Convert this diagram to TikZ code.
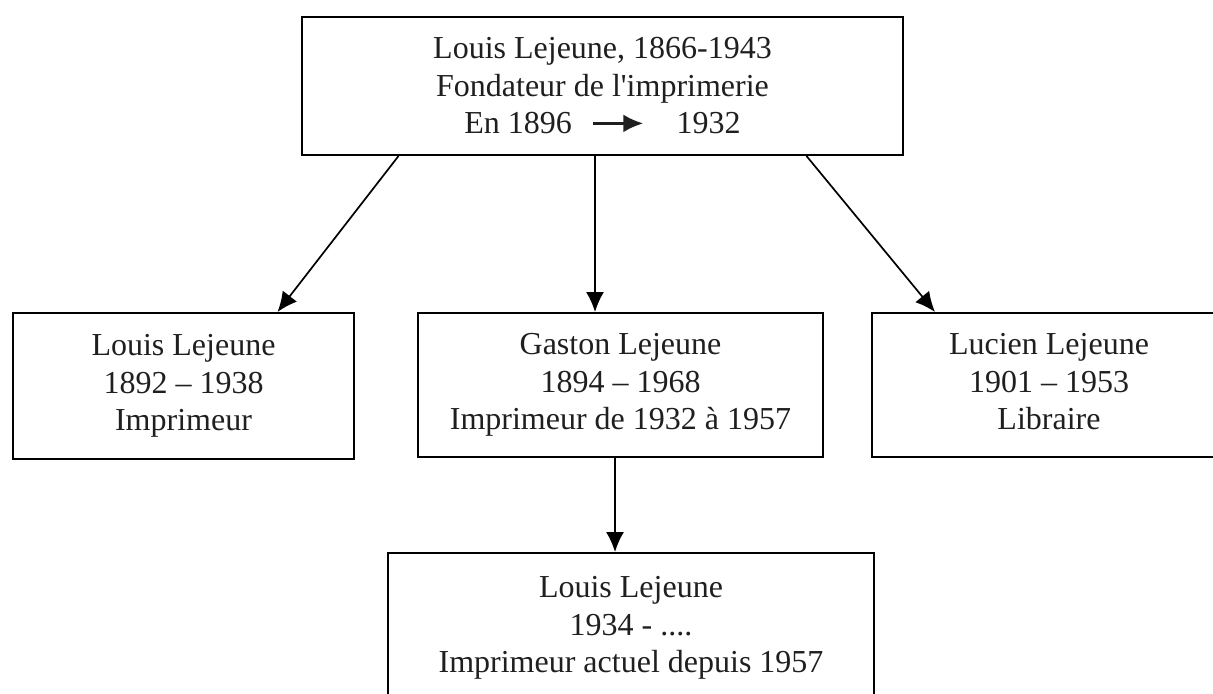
\documentclass[tikz,border=0pt]{standalone}
\usepackage{fontspec}
\setmainfont{Liberation Serif}
\usetikzlibrary{arrows.meta, positioning}

\tikzset{
  box/.style={draw, line width=1pt, inner sep=0pt, align=center,
    text=black!88, font=\fontsize{16}{18.75}\selectfont},
}

\begin{document}
\begin{tikzpicture}[x=0.5pt, y=-0.5pt]

			\useasboundingbox (0,0) rectangle (1213,693);
			\clip (0,0) rectangle (1213,693);

			\node[box, minimum width=300.5pt, minimum height=69pt] (1) at (602.5,86)
			{Louis Lejeune, 1866-1943\\ Fondateur de l\textquotesingle imprimerie\\
			En 1896\hspace{10pt}\tikz[baseline=-5.3pt]\draw[line width=1.4pt, -{Latex[length=10pt, width=9pt]}] (0pt,0pt) -- (25pt,0pt);\hspace{16pt}1932};
			\node[box, minimum width=170.5pt, minimum height=73pt] (2) at (183.5,386)
			{Louis Lejeune\\ 1892 -- 1938\\ Imprimeur};
			\node[box, minimum width=202.5pt, minimum height=72pt] (3) at (620.5,385)
			{Gaston Lejeune\\ 1894 -- 1968\\ Imprimeur de 1932 à 1957};
			\node[box, minimum width=177pt, minimum height=72pt] (4) at (1049,385)
			{Lucien Lejeune\\ 1901 -- 1953\\ Libraire\vphantom{p}};
			\node[box, minimum width=243pt, minimum height=75pt] (5) at (631,628)
			{Louis Lejeune\\ 1934 - ....\\ Imprimeur actuel depuis 1957};

			\draw[line width=0.85pt, >={Latex[length=10pt, width=9pt]}]
			([xshift=-102pt]1.south) edge[->] ([xshift=47pt]2.north)
			([xshift=-3.75pt]1.south) edge[->] ([xshift=-3.75pt]1.south |- 3.north)
			([xshift=102pt]1.south) edge[->] ([xshift=-57pt]4.north)
			([xshift=-2.75pt]3.south) edge[->] ([xshift=-2.75pt]3.south |- 5.north);

\end{tikzpicture}
\end{document}
